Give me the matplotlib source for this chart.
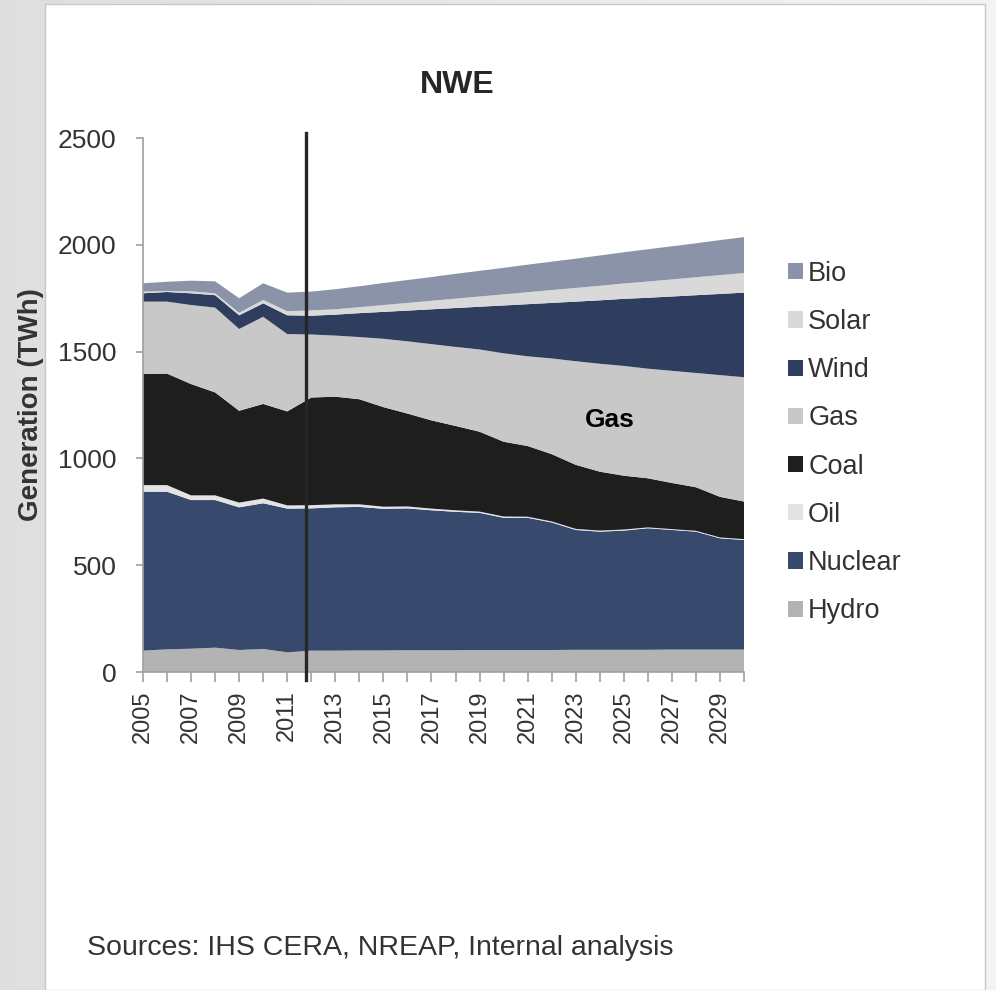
import matplotlib
matplotlib.use("Agg")
import matplotlib.pyplot as plt
import numpy as np
from matplotlib.patches import Patch, Rectangle

plt.rcParams['font.family'] = ['Liberation Sans', 'DejaVu Sans']

years = list(range(2005, 2031))

# TWh per source (stack order bottom -> top)
hydro = [100, 106, 109, 114, 103, 108, 92, 100, 100, 101, 101, 102, 102,
         102, 103, 103, 103, 103, 104, 104, 104, 104, 105, 105, 105, 105]
nuclear = [744, 738, 696, 691, 668, 682, 673, 666, 671, 672, 663, 664, 655,
           648, 642, 619, 619, 597, 561, 553, 558, 569, 560, 552, 521, 513]
oil = [31, 31, 22, 22, 22, 22, 15, 15, 14, 12, 10, 9, 8,
       7, 6, 6, 5, 5, 5, 5, 5, 4, 4, 4, 4, 4]
coal = [520, 522, 521, 482, 430, 443, 440, 504, 504, 492, 466, 435, 413,
        395, 374, 350, 331, 315, 300, 276, 252, 230, 216, 204, 190, 176]
gas = [339, 337, 370, 397, 383, 408, 362, 295, 286, 291, 320, 338, 357,
       370, 385, 414, 420, 448, 485, 505, 514, 513, 525, 535, 570, 582]
wind = [39, 45, 55, 58, 64, 63, 88, 88, 98, 112, 126, 144, 163,
        182, 200, 224, 244, 260, 279, 297, 314, 332, 348, 364, 380, 396]
solar = [8, 5, 9, 9, 12, 16, 19, 25, 25, 28, 32, 36, 40,
         44, 48, 52, 56, 60, 64, 68, 72, 76, 80, 84, 88, 92]
bio = [39, 43, 50, 56, 68, 78, 87, 88, 94, 98, 103, 107, 111,
       116, 120, 124, 129, 133, 137, 142, 146, 151, 155, 159, 164, 168]

names = ["Hydro", "Nuclear", "Oil", "Coal", "Gas", "Wind", "Solar", "Bio"]
colors = ["#b3b3b3", "#374a6d", "#e3e3e3", "#1e1e1e",
          "#c8c8c8", "#2f3d5e", "#d9d9d9", "#8a93a8"]

fig = plt.figure(figsize=(9.96, 9.90), dpi=100)

# grey slide background with a soft gradient, white panel on top
bg = fig.add_axes([0, 0, 1, 1], zorder=-20)
bg.axis("off")
shade = np.linspace(0.87, 0.95, 60)[None, :]
bg.imshow(shade, cmap="gray", vmin=0, vmax=1, aspect="auto",
          extent=[0, 1, 0, 1])
bg.set_xlim(0, 1)
bg.set_ylim(0, 1)
bg.add_patch(Rectangle((45 / 996, 0), 940 / 996, 1 - 4 / 990,
                       facecolor="white", edgecolor="#c8c8c8", lw=1))

ax = fig.add_axes([143 / 996, 1 - 672 / 990, 601 / 996, 534 / 990])
ax.set_facecolor("none")

ax.stackplot(years, hydro, nuclear, oil, coal, gas, wind, solar, bio,
             colors=colors, linewidth=0)

ax.set_xlim(2005, 2030)
ax.set_ylim(0, 2500)
ax.set_yticks(range(0, 2501, 500))
ax.set_xticks(years)
ax.set_xticklabels([str(y) if (y - 2005) % 2 == 0 else "" for y in years],
                   rotation=90)

for s in ["top", "right"]:
    ax.spines[s].set_visible(False)
for s in ["left", "bottom"]:
    ax.spines[s].set_color("#a0a0a0")
    ax.spines[s].set_linewidth(1.2)
ax.tick_params(axis="y", length=5, width=1.2, color="#a0a0a0",
               labelsize=19, labelcolor="#333333", pad=14)
ax.tick_params(axis="x", length=7, width=1.2, color="#a0a0a0",
               labelsize=17, labelcolor="#333333", pad=6)

# history / forecast divider
ax.axvline(2011.8, ymin=-0.015, ymax=1.01, color="#262626", lw=2.4,
           clip_on=False, zorder=5)

ax.text(2024.4, 1180, "Gas", fontsize=19, fontweight="bold",
        color="black", ha="center", va="center")

ax.set_ylabel("Generation (TWh)", fontsize=20, fontweight="bold",
              color="#333333", labelpad=10)
fig.text(457 / 996, 1 - 85 / 990, "NWE", fontsize=23, fontweight="bold",
         color="#262626", ha="center", va="center")

handles = [Patch(facecolor=c, edgecolor="none") for c in colors][::-1]
leg = fig.legend(handles, names[::-1], loc="upper left",
                 bbox_to_anchor=(777 / 996, 1 - 250 / 990), frameon=False,
                 fontsize=19.5, handlelength=0.55, handleheight=0.55,
                 handletextpad=0.2, labelspacing=0.82, borderaxespad=0)
for t in leg.get_texts():
    t.set_color("#333333")

fig.text(87 / 996, 1 - 948 / 990, "Sources: IHS CERA, NREAP, Internal analysis",
         fontsize=20.5, color="#333333", ha="left", va="center")

fig.savefig("out.png", dpi=100)
